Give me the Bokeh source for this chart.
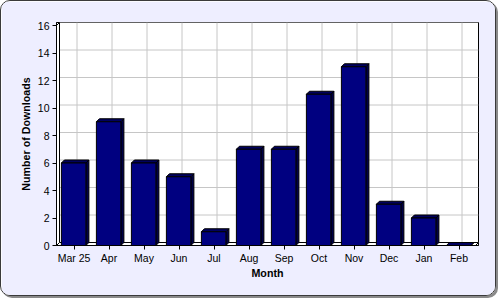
from bokeh.plotting import figure
from bokeh.models import Range1d, FixedTicker, InlineStyleSheet
from bokeh.embed import file_html
from bokeh.resources import INLINE

# ---- data ----
months = ["Mar 25", "Apr", "May", "Jun", "Jul", "Aug", "Sep", "Oct", "Nov", "Dec", "Jan", "Feb"]
downloads = [6, 9, 6, 5, 1, 7, 7, 11, 13, 3, 2, 0]
y_ticks = [0, 2, 4, 6, 8, 10, 12, 14, 16]

# ---- layout constants ----
W, H = 496, 296
ML, MR, MT, MB = 55, 19, 21, 52
FW = W - ML - MR
FH = H - MT - MB
PX_X = 35.0      # px per category
PX_Y = 13.75     # px per unit
X0 = -0.5
X1 = X0 + FW / PX_X
Y0 = 0.0
Y1 = FH / PX_Y
DX = 3.0 / PX_X  # 3D depth in data units
DY = 3.0 / PX_Y

BG = "#eeeeff"
NAVY = "#000080"
TOP = "#00005e"
SIDE = "#000048"
GRID = "#c6c6c6"
FONT = "Liberation Sans"

css = InlineStyleSheet(css=""":host { border: 1px solid #3a3a3a; border-radius: 10px;
  box-shadow: 2px 2px 0 0 #8a8a8a; overflow: hidden; }""")

p = figure(width=W, height=H, output_backend="svg", toolbar_location=None,
           x_range=Range1d(X0, X1), y_range=Range1d(Y0, Y1),
           min_border_left=ML, min_border_right=MR, min_border_top=MT, min_border_bottom=MB,
           background_fill_color="white", border_fill_color=BG,
           outline_line_color="black", stylesheets=[css])
p.xgrid.visible = False
p.ygrid.visible = False

# back-wall grid (offset by 3D depth)
gx0 = [X0 + DX] * len(y_ticks)
gx1 = [X1] * len(y_ticks)
gy = [t + DY for t in y_ticks]
p.segment(x0=gx0, y0=gy, x1=gx1, y1=gy, line_color=GRID, line_width=1)
vx = [i + DX for i in range(len(months))]
p.segment(x0=vx, y0=[DY] * len(vx), x1=vx, y1=[Y1] * len(vx), line_color=GRID, line_width=1)

# left wall edge and floor
p.segment(x0=[X0 + DX, X0], y0=[DY, y_ticks[-1]], x1=[X0 + DX, X0 + DX], y1=[Y1, y_ticks[-1] + DY],
          line_color="black", line_width=1)
p.patch(x=[X0, X0 + DX, X1, X1 - DX], y=[0, DY, DY, 0],
        fill_color="white", line_color="black", line_width=1)

# bars
lefts = [i - 0.36 for i in range(len(months))]
rights = [i + 0.34 for i in range(len(months))]
side_xs = [[r, r + DX, r + DX, r] for r in rights]
side_ys = [[0, DY, v + DY, v] for v in downloads]
top_xs = [[l, l + DX, r + DX, r] for l, r in zip(lefts, rights)]
top_ys = [[v, v + DY, v + DY, v] for v in downloads]
p.patches(xs=side_xs, ys=side_ys, fill_color=SIDE, line_color="black", line_width=1)
p.patches(xs=top_xs, ys=top_ys, fill_color=TOP, line_color="black", line_width=1)
p.quad(left=lefts, right=rights, bottom=[0] * len(months), top=downloads,
       fill_color=NAVY, line_color="black", line_width=1)

# axes
p.xaxis.ticker = FixedTicker(ticks=list(range(len(months))))
p.xaxis.major_label_overrides = {i: m for i, m in enumerate(months)}
p.yaxis.ticker = FixedTicker(ticks=y_ticks)
for ax in (p.xaxis[0], p.yaxis[0]):
    ax.axis_line_color = "black"
    ax.major_tick_line_color = "black"
    ax.minor_tick_line_color = None
    ax.major_tick_in = 0
    ax.major_tick_out = 4
    ax.major_label_text_font = FONT
    ax.major_label_text_font_size = "10.5px"
    ax.major_label_text_color = "black"
    ax.axis_label_text_font = FONT
    ax.axis_label_text_font_size = "10.7px"
    ax.axis_label_text_font_style = "bold"
    ax.axis_label_text_color = "black"
p.xaxis.axis_label = "Month"
p.yaxis.axis_label = "Number of Downloads"
p.xaxis.major_label_standoff = 2
p.xaxis.axis_label_standoff = 0
p.yaxis.major_label_standoff = 3
p.yaxis.axis_label_standoff = 3

open("out.html", "w").write(file_html(p, INLINE))
